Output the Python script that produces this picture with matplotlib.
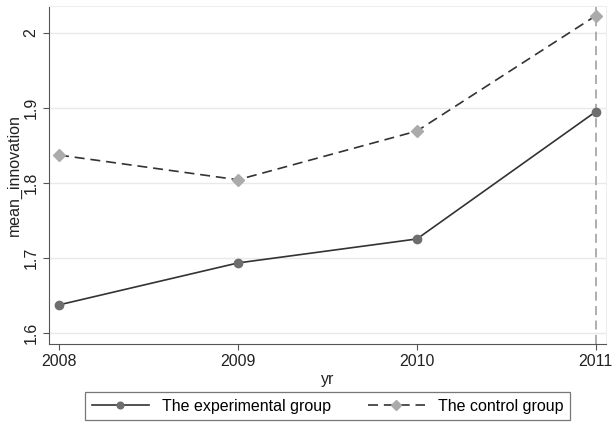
import matplotlib
matplotlib.use("Agg")
import matplotlib.pyplot as plt

plt.rcParams['font.family'] = ['Liberation Sans', 'DejaVu Sans']

years = [2008, 2009, 2010, 2011]
experimental = [1.637, 1.693, 1.725, 1.895]
control = [1.837, 1.804, 1.869, 2.023]
yticks = [1.6, 1.7, 1.8, 1.9, 2.0]
ytick_labels = ["1.6", "1.7", "1.8", "1.9", "2"]

fig = plt.figure(figsize=(6.12, 4.24), dpi=100)
ax = fig.add_axes([0.080, 0.189, 0.910, 0.797])

ax.plot(years, experimental, color='#333333', lw=1.2, marker='o', ms=6,
        markerfacecolor='#6e6e6e', markeredgecolor='#6e6e6e', label='The experimental group', zorder=3)
ax.plot(years, control, color='#333333', lw=1.2, ls=(0, (6, 3.5)), marker='D', ms=6,
        markerfacecolor='#ababab', markeredgecolor='#ababab', label='The control group', zorder=3)
ax.axvline(years[-1], color='#a8a8a8', lw=1.3, ls=(0, (5, 3)), zorder=2)

ax.set_xlim(2007.944, 2011.056)
ax.set_ylim(1.585, 2.036)
ax.set_xticks(years)
ax.set_xticklabels([str(y) for y in years], fontsize=11.5)
ax.set_yticks(yticks)
ax.set_yticklabels(ytick_labels, fontsize=11.5, rotation=90, va='center')
ax.grid(axis='y', color='#e9e9e9', lw=1)
ax.set_axisbelow(True)
for s in ['left', 'bottom']:
    ax.spines[s].set_color('#555555')
for s in ['top', 'right']:
    ax.spines[s].set_color('#eeeeee')
ax.tick_params(colors='#555555', labelcolor='#222222', length=4)
ax.set_xlabel('yr', fontsize=11.5, color='#222222', labelpad=2)
ax.set_ylabel('mean_innovation', fontsize=11.5, color='#222222', labelpad=1)

leg = fig.legend(loc='upper center', bbox_to_anchor=(0.535, 0.094), ncol=2, frameon=True,
                 fancybox=False, edgecolor='#555555', fontsize=11.5, handlelength=3.6,
                 handletextpad=0.8, markerscale=0.8,
                 numpoints=1, columnspacing=2.3, borderpad=0.4)
leg.get_frame().set_linewidth(0.9)

fig.savefig('out.png', dpi=100)
